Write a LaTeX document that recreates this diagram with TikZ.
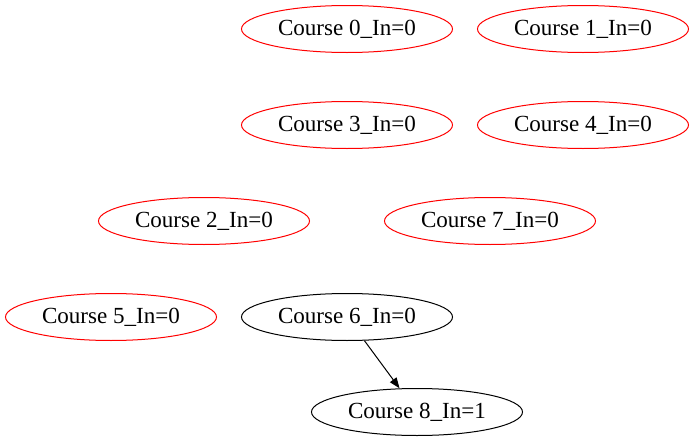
\documentclass[tikz,border=0pt]{standalone}
\usepackage{fontspec}
\setmainfont{Liberation Serif}
\usetikzlibrary{shapes.geometric,arrows.meta}
\tikzset{
  course/.style={ellipse, draw=red, line width=0.75pt, minimum width=158.25pt, minimum height=35.25pt, inner sep=0pt, font=\fontsize{17.3}{19}\selectfont},
  coursek/.style={course, draw=black},
  link/.style={line width=0.75pt, -{Triangle[length=8pt,width=6pt]}}
}
\begin{document}
\begin{tikzpicture}[x=0.75pt,y=-0.75pt]
\useasboundingbox (0,0) rectangle (694,443);
\node[course] (n0) at (347,29) {Course 0\_In=0};
\node[course] (n1) at (583,29) {Course 1\_In=0};
\node[course] (n3) at (347,125) {Course 3\_In=0};
\node[course] (n4) at (583,125) {Course 4\_In=0};
\node[course] (n2) at (204,221) {Course 2\_In=0};
\node[course] (n7) at (490,221) {Course 7\_In=0};
\node[course] (n5) at (111,317) {Course 5\_In=0};
\node[coursek] (n6) at (347,317) {Course 6\_In=0};
\node[coursek] (n8) at (417,412) {Course 8\_In=1};
\draw[link] (n6) -- (n8);
\end{tikzpicture}
\end{document}
